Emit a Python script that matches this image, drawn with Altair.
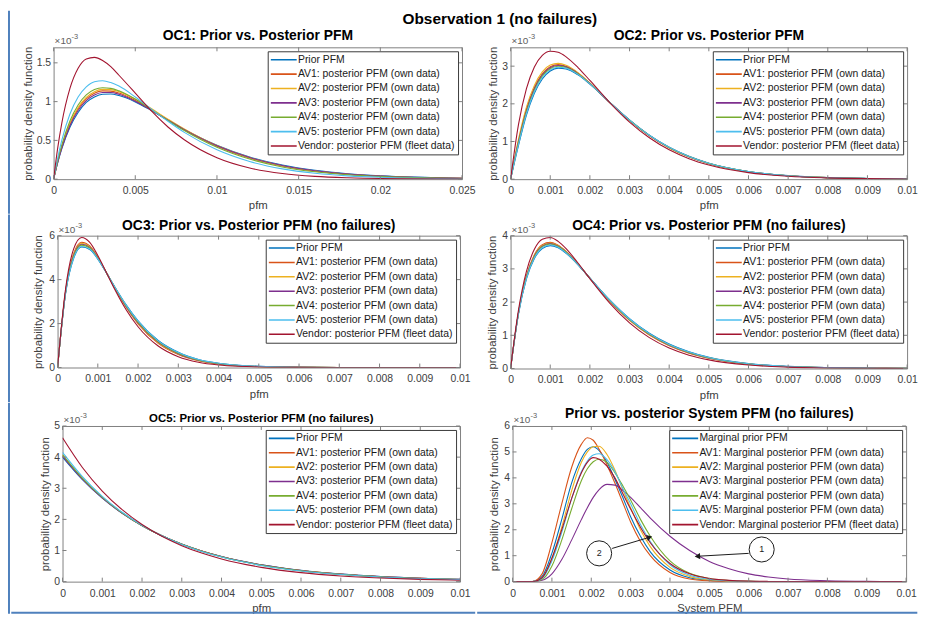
import altair as alt
import pandas as pd

FONT = "Liberation Sans"
TICKC = "#404040"
BOX = "#808080"
FRAME = "#4f81bd"

COLORS = ["#0072BD", "#D95319", "#EDB120", "#7E2F8E", "#77AC30", "#4DBEEE", "#A2142F"]
OC_LABELS = ["Prior PFM", "AV1: posterior PFM (own data)", "AV2: posterior PFM (own data)",
             "AV3: posterior PFM (own data)", "AV4: posterior PFM (own data)",
             "AV5: posterior PFM (own data)", "Vendor: posterior PFM (fleet data)"]
SYS_LABELS = ["Marginal prior PFM", "AV1: Marginal posterior PFM (own data)",
              "AV2: Marginal posterior PFM (own data)", "AV3: Marginal posterior PFM (own data)",
              "AV4: Marginal posterior PFM (own data)", "AV5: Marginal posterior PFM (own data)",
              "Vendor: Marginal posterior PFM (fleet data)"]

MAIN_TITLE = "Observation 1 (no failures)"
PANEL_TITLES = ["OC1: Prior vs. Posterior PFM", "OC2: Prior vs. Posterior PFM",
                "OC3: Prior vs. Posterior PFM (no failures)", "OC4: Prior vs. Posterior PFM (no failures)",
                "OC5: Prior vs. Posterior PFM (no failures)", "Prior vs. posterior System PFM (no failures)"]

# ---------------- OC1 ----------------
X_OC1 = [0, 0.00025, 0.0005, 0.001, 0.0015, 0.002, 0.0025, 0.003, 0.0035, 0.004, 0.005, 0.006,
         0.007, 0.008, 0.010, 0.012, 0.014, 0.016, 0.018, 0.020, 0.025]
OC1_PRIOR = [0, 0.21, 0.39, 0.67, 0.86, 0.99, 1.06, 1.095, 1.098, 1.078, 0.996, 0.883, 0.761, 0.642, 0.438, 0.286, 0.182, 0.114, 0.070, 0.042, 0.012]
OC1_AV1 = [0, 0.224, 0.414, 0.709, 0.909, 1.036, 1.108, 1.138, 1.135, 1.11, 1.015, 0.891, 0.761, 0.636, 0.425, 0.273, 0.171, 0.104, 0.063, 0.037, 0.010]
OC1_AV2 = [0, 0.228, 0.42, 0.72, 0.925, 1.054, 1.128, 1.158, 1.155, 1.129, 1.033, 0.907, 0.774, 0.647, 0.433, 0.278, 0.174, 0.106, 0.064, 0.038, 0.010]
OC1_AV3 = [0, 0.218, 0.40, 0.69, 0.885, 1.013, 1.085, 1.117, 1.117, 1.095, 1.006, 0.887, 0.761, 0.639, 0.432, 0.28, 0.177, 0.109, 0.067, 0.040, 0.011]
OC1_AV4 = [0, 0.239, 0.44, 0.75, 0.957, 1.086, 1.155, 1.179, 1.171, 1.139, 1.031, 0.896, 0.757, 0.627, 0.411, 0.259, 0.158, 0.095, 0.056, 0.033, 0.008]
OC1_AV5 = [0, 0.273, 0.50, 0.84, 1.06, 1.19, 1.257, 1.27, 1.246, 1.20, 1.06, 0.90, 0.746, 0.603, 0.379, 0.228, 0.133, 0.077, 0.043, 0.024, 0.006]
OC1_VENDOR = [0, 0.40, 0.72, 1.17, 1.43, 1.55, 1.57, 1.53, 1.45, 1.34, 1.11, 0.876, 0.673, 0.508, 0.276, 0.144, 0.073, 0.036, 0.018, 0.009, 0.002]

# ---------------- grid shared by OC2..OC4 ----------------
X_10 = [0, 0.0002, 0.0004, 0.0006, 0.0008, 0.001, 0.0012, 0.0014, 0.0017, 0.002, 0.0025,
        0.003, 0.0035, 0.004, 0.0045, 0.005, 0.006, 0.007, 0.008, 0.009, 0.010]

OC2_PRIOR = [0, 0.897, 1.70, 2.28, 2.66, 2.87, 2.947, 2.926, 2.77, 2.524, 2.04, 1.572, 1.17, 0.85, 0.606, 0.425, 0.203, 0.094, 0.042, 0.019, 0.008]
OC2_AV1 = [0, 1.02, 1.855, 2.434, 2.798, 2.986, 3.04, 2.997, 2.813, 2.545, 2.039, 1.56, 1.155, 0.835, 0.593, 0.414, 0.197, 0.090, 0.040, 0.018, 0.0077]
OC2_AV2 = [0, 1.064, 1.912, 2.49, 2.848, 3.028, 3.073, 3.023, 2.828, 2.553, 2.039, 1.555, 1.149, 0.829, 0.588, 0.410, 0.194, 0.089, 0.040, 0.018, 0.0076]
OC2_AV3 = [0, 0.992, 1.82, 2.40, 2.767, 2.959, 3.019, 2.981, 2.803, 2.54, 2.039, 1.562, 1.158, 0.838, 0.596, 0.417, 0.198, 0.091, 0.041, 0.018, 0.0077]
OC2_AV4 = [0, 0.964, 1.785, 2.364, 2.735, 2.933, 2.998, 2.965, 2.793, 2.536, 2.039, 1.565, 1.162, 0.842, 0.599, 0.419, 0.2, 0.092, 0.041, 0.0185, 0.0078]
OC2_AV5 = [0, 0.93, 1.742, 2.322, 2.698, 2.902, 2.972, 2.945, 2.782, 2.53, 2.04, 1.569, 1.166, 0.846, 0.602, 0.422, 0.201, 0.093, 0.042, 0.019, 0.008]
OC2_VENDOR = [0, 1.455, 2.405, 2.98, 3.287, 3.396, 3.368, 3.248, 2.964, 2.62, 2.035, 1.516, 1.10, 0.78, 0.545, 0.376, 0.174, 0.078, 0.035, 0.015, 0.0065]

OC3_PRIOR = [0, 3.38, 4.97, 5.483, 5.374, 4.935, 4.357, 3.737, 2.861, 2.12, 1.228, 0.691, 0.369, 0.196, 0.102, 0.052, 0.0135, 0.0034, 0.0008, 0.0002, 0]
OC3_AV1 = [0, 3.487, 5.185, 5.70, 5.534, 5.018, 4.366, 3.686, 2.752, 1.988, 1.103, 0.591, 0.305, 0.156, 0.078, 0.038, 0.009, 0.002, 0.0004, 0.0001, 0]
OC3_AV2 = [0, 3.465, 5.142, 5.657, 5.502, 5.001, 4.364, 3.696, 2.774, 2.014, 1.128, 0.611, 0.317, 0.164, 0.083, 0.041, 0.010, 0.0024, 0.0005, 0.0001, 0]
OC3_AV3 = [0, 3.444, 5.099, 5.613, 5.47, 4.985, 4.362, 3.706, 2.796, 2.041, 1.153, 0.631, 0.330, 0.172, 0.088, 0.044, 0.011, 0.0027, 0.0006, 0.0001, 0]
OC3_AV4 = [0, 3.423, 5.056, 5.57, 5.438, 4.968, 4.361, 3.717, 2.817, 2.067, 1.178, 0.651, 0.343, 0.18, 0.092, 0.046, 0.012, 0.003, 0.0006, 0.0002, 0]
OC3_AV5 = [0, 3.391, 4.99, 5.505, 5.39, 4.943, 4.358, 3.732, 2.85, 2.107, 1.215, 0.681, 0.363, 0.192, 0.1, 0.051, 0.013, 0.0033, 0.0008, 0.0002, 0]
OC3_VENDOR = [0, 3.593, 5.40, 5.917, 5.694, 5.10, 4.375, 3.635, 2.643, 1.856, 0.977, 0.491, 0.24, 0.115, 0.054, 0.024, 0.005, 0.001, 0, 0, 0]

OC4_PRIOR = [0, 1.647, 2.697, 3.312, 3.615, 3.70, 3.633, 3.471, 3.124, 2.723, 2.065, 1.502, 1.062, 0.736, 0.503, 0.339, 0.149, 0.064, 0.027, 0.011, 0.0046]
OC4_AV1 = [0, 1.694, 2.788, 3.423, 3.726, 3.798, 3.711, 3.526, 3.146, 2.716, 2.026, 1.45, 1.009, 0.688, 0.463, 0.307, 0.131, 0.055, 0.022, 0.009, 0.0037]
OC4_AV2 = [0, 1.686, 2.772, 3.404, 3.707, 3.781, 3.698, 3.517, 3.142, 2.717, 2.033, 1.459, 1.018, 0.697, 0.47, 0.313, 0.134, 0.056, 0.023, 0.0094, 0.0038]
OC4_AV3 = [0, 1.676, 2.754, 3.382, 3.685, 3.761, 3.682, 3.506, 3.138, 2.719, 2.041, 1.47, 1.029, 0.706, 0.478, 0.319, 0.138, 0.058, 0.024, 0.0098, 0.004]
OC4_AV4 = [0, 1.67, 2.743, 3.368, 3.671, 3.749, 3.672, 3.499, 3.135, 2.719, 2.046, 1.476, 1.036, 0.712, 0.483, 0.323, 0.14, 0.059, 0.0247, 0.01, 0.0041]
OC4_AV5 = [0, 1.656, 2.715, 3.334, 3.637, 3.72, 3.649, 3.482, 3.128, 2.722, 2.057, 1.492, 1.051, 0.726, 0.495, 0.333, 0.145, 0.062, 0.026, 0.0106, 0.0044]
OC4_VENDOR = [0, 1.764, 2.925, 3.59, 3.893, 3.945, 3.829, 3.609, 3.178, 2.705, 1.968, 1.373, 0.93, 0.617, 0.402, 0.26, 0.104, 0.041, 0.0155, 0.006, 0.0023]

# ---------------- OC5 ----------------
X_OC5 = [0, 0.0005, 0.001, 0.0015, 0.002, 0.0025, 0.003, 0.0035, 0.004, 0.005, 0.006, 0.007, 0.008, 0.009, 0.010]
OC5_PRIOR = [4.0, 3.275, 2.681, 2.195, 1.797, 1.472, 1.205, 0.986, 0.808, 0.541, 0.363, 0.243, 0.163, 0.109, 0.073]
OC5_AV1 = [4.05, 3.308, 2.701, 2.206, 1.802, 1.472, 1.202, 0.982, 0.802, 0.535, 0.357, 0.238, 0.159, 0.106, 0.071]
OC5_AV2 = [4.06, 3.315, 2.706, 2.209, 1.803, 1.472, 1.201, 0.98, 0.80, 0.533, 0.355, 0.236, 0.157, 0.105, 0.07]
OC5_AV3 = [4.03, 3.295, 2.693, 2.201, 1.80, 1.472, 1.203, 0.984, 0.805, 0.538, 0.36, 0.24, 0.161, 0.107, 0.072]
OC5_AV4 = [4.08, 3.328, 2.714, 2.213, 1.804, 1.471, 1.199, 0.978, 0.798, 0.53, 0.352, 0.234, 0.155, 0.103, 0.069]
OC5_AV5 = [4.15, 3.372, 2.740, 2.227, 1.809, 1.471, 1.195, 0.971, 0.789, 0.521, 0.344, 0.227, 0.150, 0.099, 0.0656]
OC5_VENDOR = [4.62, 3.667, 2.911, 2.311, 1.834, 1.456, 1.156, 0.917, 0.728, 0.459, 0.289, 0.182, 0.115, 0.072, 0.046]

# ---------------- System ----------------
X_SYS = [0, 0.00025, 0.0005, 0.00075, 0.001, 0.00125, 0.0015, 0.00175, 0.0019, 0.00205, 0.0022,
         0.0024, 0.0026, 0.0028, 0.003, 0.00325, 0.0035, 0.004, 0.0045, 0.005, 0.0055, 0.006,
         0.0065, 0.007, 0.008, 0.009, 0.010]
SYS_PRIOR = [0, 0, 0, 0.2, 1.1, 2.4, 3.8, 4.75, 5.1, 5.2, 5.05, 4.6, 3.95, 3.25, 2.5, 1.75, 1.15, 0.45, 0.15, 0.05, 0.015, 0.005, 0.002, 0, 0, 0, 0]
SYS_AV1 = [0, 0, 0, 0.3, 1.5, 3.0, 4.4, 5.3, 5.55, 5.45, 5.1, 4.5, 3.8, 3.05, 2.3, 1.55, 1.0, 0.35, 0.1, 0.03, 0.01, 0.004, 0.001, 0, 0, 0, 0]
SYS_AV2 = [0, 0, 0, 0.15, 0.9, 2.1, 3.5, 4.6, 5.0, 5.2, 5.22, 4.9, 4.3, 3.55, 2.85, 2.0, 1.35, 0.55, 0.2, 0.07, 0.025, 0.01, 0.003, 0.001, 0, 0, 0]
SYS_AV3 = [0, 0, 0, 0.05, 0.3, 0.85, 1.6, 2.4, 2.85, 3.25, 3.55, 3.75, 3.72, 3.52, 3.25, 2.85, 2.45, 1.75, 1.2, 0.78, 0.5, 0.3, 0.18, 0.1, 0.035, 0.01, 0.003]
SYS_AV4 = [0, 0, 0, 0.08, 0.6, 1.6, 2.8, 3.9, 4.35, 4.62, 4.72, 4.6, 4.2, 3.7, 3.15, 2.4, 1.75, 0.8, 0.32, 0.12, 0.045, 0.015, 0.005, 0.002, 0, 0, 0]
SYS_AV5 = [0, 0, 0, 0.12, 0.8, 1.9, 3.2, 4.25, 4.65, 4.88, 4.93, 4.7, 4.25, 3.6, 3.0, 2.2, 1.55, 0.65, 0.25, 0.09, 0.03, 0.012, 0.004, 0.001, 0, 0, 0]
SYS_VENDOR = [0, 0, 0, 0.15, 0.9, 2.0, 3.2, 4.2, 4.6, 4.78, 4.72, 4.45, 4.0, 3.4, 2.8, 2.1, 1.5, 0.7, 0.3, 0.12, 0.05, 0.02, 0.008, 0.004, 0.001, 0, 0]

# annotations in the system panel
CIRCLE_LABELS = ["2", "1"]
CIRCLE_X = [0.0022, 0.00633]
CIRCLE_Y = [1.09, 1.24]
ARROW_X1 = [0.00253, 0.0060]
ARROW_Y1 = [1.28, 1.09]
ARROW_X2 = [0.00346, 0.00472]
ARROW_Y2 = [1.70, 0.98]
ARROW_ANGLE = [73, 267]

# tick values
XT_25 = [0, 0.005, 0.01, 0.015, 0.02, 0.025]
XT_10 = [0, 0.001, 0.002, 0.003, 0.004, 0.005, 0.006, 0.007, 0.008, 0.009, 0.01]
YT_OC1 = [0, 0.5, 1, 1.5]
YT_OC2 = [0, 1, 2, 3]
YT_OC3 = [0, 2, 4, 6]
YT_OC4 = [0, 1, 2, 3, 4]
YT_OC5 = [0, 1, 2, 3, 4, 5]
YT_SYS = [0, 1, 2, 3, 4, 5, 6]


def long_df(xs, curves, labels):
    rows = []
    for lab, ys in zip(labels, curves):
        for i, (x, y) in enumerate(zip(xs, ys)):
            rows.append({"x": x, "y": y, "s": lab, "k": i})
    return pd.DataFrame(rows)


def one(v):
    return pd.DataFrame({"t": [v]})


def frame_rect(x, x2, y, y2):
    # blue outer frame piece (a filled rect, so its bounds are exact)
    return alt.Chart(one(0)).mark_rect(color=FRAME, strokeWidth=0).encode(
        x=alt.value(x), x2=alt.value(x2), y=alt.value(y), y2=alt.value(y2))


def pad_rule(x):
    # invisible spacer that fixes the layout bounds of a panel
    return alt.Chart(one(0)).mark_rule(strokeOpacity=0, strokeWidth=1).encode(
        x=alt.value(x), y=alt.value(10), y2=alt.value(20))


def panel(title, tsize, ty, xs, curves, labels, xmax, xticks, ymax, yticks, w, h,
          xtitle, yext, extra=(), annot=False):
    xsc = alt.Scale(domain=[0, xmax], nice=False, zero=False)
    ysc = alt.Scale(domain=[0, ymax], nice=False, zero=False)
    xax = alt.Axis(values=xticks, format="~g", title=xtitle, tickSize=0, domain=False, grid=False,
                   labelFont=FONT, labelFontSize=10.5, labelColor=TICKC, labelPadding=6.5,
                   labelFlush=False, labelOverlap=False, titleFont=FONT, titleFontSize=11.5,
                   titleFontWeight="normal", titleColor=TICKC, titlePadding=1,
                   minExtent=20, maxExtent=20)
    yax = alt.Axis(values=yticks, format="~g", title="probability density function", tickSize=0,
                   domain=False, grid=False, labelFont=FONT, labelFontSize=10.5, labelColor=TICKC,
                   labelPadding=3, labelFlush=False, labelOverlap=False, titleFont=FONT,
                   titleFontSize=11.5, titleFontWeight="normal", titleColor=TICKC, titlePadding=0,
                   minExtent=yext, maxExtent=yext)
    leg = alt.Legend(title=None, orient="top-right", offset=4, fillColor="white",
                     strokeColor="#3a3a3a", padding=3, labelFont=FONT, labelFontSize=10.5,
                     labelColor="#1a1a1a", symbolType="stroke", symbolSize=700,
                     symbolStrokeWidth=1.6, clipHeight=11, rowPadding=3.5, labelOffset=0,
                     symbolOffset=-1.5, labelLimit=400, cornerRadius=0)
    X = alt.X("x:Q", scale=xsc, axis=xax)
    Y = alt.Y("y:Q", scale=ysc, axis=yax)
    df = long_df(xs, curves, labels)
    layers = [
        alt.Chart(df).mark_line(interpolate="monotone", strokeWidth=1.1, clip=True).encode(
            x=X, y=Y,
            color=alt.Color("s:N", scale=alt.Scale(domain=labels, range=COLORS), legend=leg),
            order="k:Q")
    ]
    xt = pd.DataFrame({"x": xticks})
    yt = pd.DataFrame({"y": yticks})
    layers += [
        alt.Chart(xt).mark_rule(color=BOX, strokeWidth=1).encode(x=X, y=alt.value(h), y2=alt.value(h - 4)),
        alt.Chart(xt).mark_rule(color=BOX, strokeWidth=1).encode(x=X, y=alt.value(0), y2=alt.value(4)),
        alt.Chart(yt).mark_rule(color=BOX, strokeWidth=1).encode(y=Y, x=alt.value(0), x2=alt.value(4)),
        alt.Chart(yt).mark_rule(color=BOX, strokeWidth=1).encode(y=Y, x=alt.value(w - 4), x2=alt.value(w)),
        alt.Chart(one("×10")).mark_text(
            align="left", baseline="middle", font=FONT, fontSize=10, color="#606060").encode(
            text="t:N", x=alt.value(1), y=alt.value(-6)),
        alt.Chart(one("-3")).mark_text(
            align="left", baseline="middle", font=FONT, fontSize=7.5, color="#606060").encode(
            text="t:N", x=alt.value(18), y=alt.value(-10)),
        alt.Chart(one(title)).mark_text(
            align="center", baseline="middle", font=FONT, fontSize=tsize, fontWeight="bold",
            color="#000000").encode(text="t:N", x=alt.value(w / 2), y=alt.value(ty)),
    ]
    layers += list(extra)
    if annot:
        adf = pd.DataFrame({"x": CIRCLE_X, "y": CIRCLE_Y, "t": CIRCLE_LABELS})
        rdf = pd.DataFrame({"x": ARROW_X1, "y": ARROW_Y1, "x2": ARROW_X2, "y2": ARROW_Y2,
                            "a": ARROW_ANGLE})
        layers += [
            alt.Chart(rdf).mark_rule(color="#1a1a1a", strokeWidth=1).encode(
                x=X, y=Y, x2="x2:Q", y2="y2:Q"),
            alt.Chart(rdf).mark_point(shape="triangle", filled=True, color="#1a1a1a", size=40,
                                      opacity=1).encode(
                x=alt.X("x2:Q", scale=xsc, axis=xax), y=alt.Y("y2:Q", scale=ysc, axis=yax),
                angle=alt.Angle("a:Q", scale=None)),
            alt.Chart(adf).mark_point(shape="circle", filled=True, fill="white", stroke="#1a1a1a",
                                      strokeWidth=1, size=640, opacity=1).encode(x=X, y=Y),
            alt.Chart(adf).mark_text(font=FONT, fontSize=9, color="#1a1a1a").encode(
                x=X, y=Y, text="t:N"),
        ]
    return alt.layer(*layers).properties(width=w, height=h)


def seg_chart(top, bot, h):
    return alt.layer(frame_rect(0, 2, top, bot)).properties(
        width=2, height=h, view=alt.ViewBackground(stroke=None))


# geometry in vega coordinates (page - 8); the frame column is 2 px wide
oc1 = panel(PANEL_TITLES[0], 14, -11, X_OC1,
            [OC1_PRIOR, OC1_AV1, OC1_AV2, OC1_AV3, OC1_AV4, OC1_AV5, OC1_VENDOR], OC_LABELS,
            0.025, XT_25, 1.7, YT_OC1, 412, 133, "pfm", 20,
            extra=[pad_rule(-43), pad_rule(412 + 14)])
oc2 = panel(PANEL_TITLES[1], 14, -11, X_10,
            [OC2_PRIOR, OC2_AV1, OC2_AV2, OC2_AV3, OC2_AV4, OC2_AV5, OC2_VENDOR], OC_LABELS,
            0.01, XT_10, 3.5, YT_OC2, 400, 133, "pfm", 12, extra=[pad_rule(-33)])
oc3 = panel(PANEL_TITLES[2], 14, -9.5, X_10,
            [OC3_PRIOR, OC3_AV1, OC3_AV2, OC3_AV3, OC3_AV4, OC3_AV5, OC3_VENDOR], OC_LABELS,
            0.01, XT_10, 6, YT_OC3, 406, 133, "pfm", 14,
            extra=[pad_rule(-46.7), pad_rule(406 + 14)])
oc4 = panel(PANEL_TITLES[3], 14, -9.5, X_10,
            [OC4_PRIOR, OC4_AV1, OC4_AV2, OC4_AV3, OC4_AV4, OC4_AV5, OC4_VENDOR], OC_LABELS,
            0.01, XT_10, 4, YT_OC4, 400, 134, "pfm", 13, extra=[pad_rule(-35)])
oc5 = panel(PANEL_TITLES[4], 11.5, -7.5, X_OC5,
            [OC5_PRIOR, OC5_AV1, OC5_AV2, OC5_AV3, OC5_AV4, OC5_AV5, OC5_VENDOR], OC_LABELS,
            0.01, XT_10, 5, YT_OC5, 401, 157, "pfm", 12,
            extra=[frame_rect(-51.7, 470 - 53.7, 187.5, 189.5)])
sysp = panel(PANEL_TITLES[5], 14, -12, X_SYS,
             [SYS_PRIOR, SYS_AV1, SYS_AV2, SYS_AV3, SYS_AV4, SYS_AV5, SYS_VENDOR], SYS_LABELS,
             0.01, XT_10, 6, YT_SYS, 397, 157, "System PFM", 13,
             extra=[frame_rect(470 - 505.7, 914 - 505.7, 187.5, 189.5)], annot=True)

row1 = alt.hconcat(seg_chart(-37, 168, 133), oc1, oc2, spacing=0).resolve_scale(color="independent")
row2 = alt.hconcat(seg_chart(-21.3, 167.7, 133), oc3, oc4, spacing=0).resolve_scale(color="independent")
row3 = alt.hconcat(seg_chart(-23.5, 189.5, 157), oc5, sysp, spacing=0).resolve_scale(color="independent")

chart = alt.vconcat(row1, row2, row3, spacing=0).resolve_scale(color="independent").properties(
    padding=0,
    title=alt.TitleParams(MAIN_TITLE, font=FONT, fontSize=15.5, fontWeight="bold", color="#000000",
                          anchor="start", frame="bounds", dx=398, offset=-17),
).configure_view(stroke=BOX, strokeWidth=1)

chart.save("out.html", embed_options={"renderer": "svg", "actions": False})
